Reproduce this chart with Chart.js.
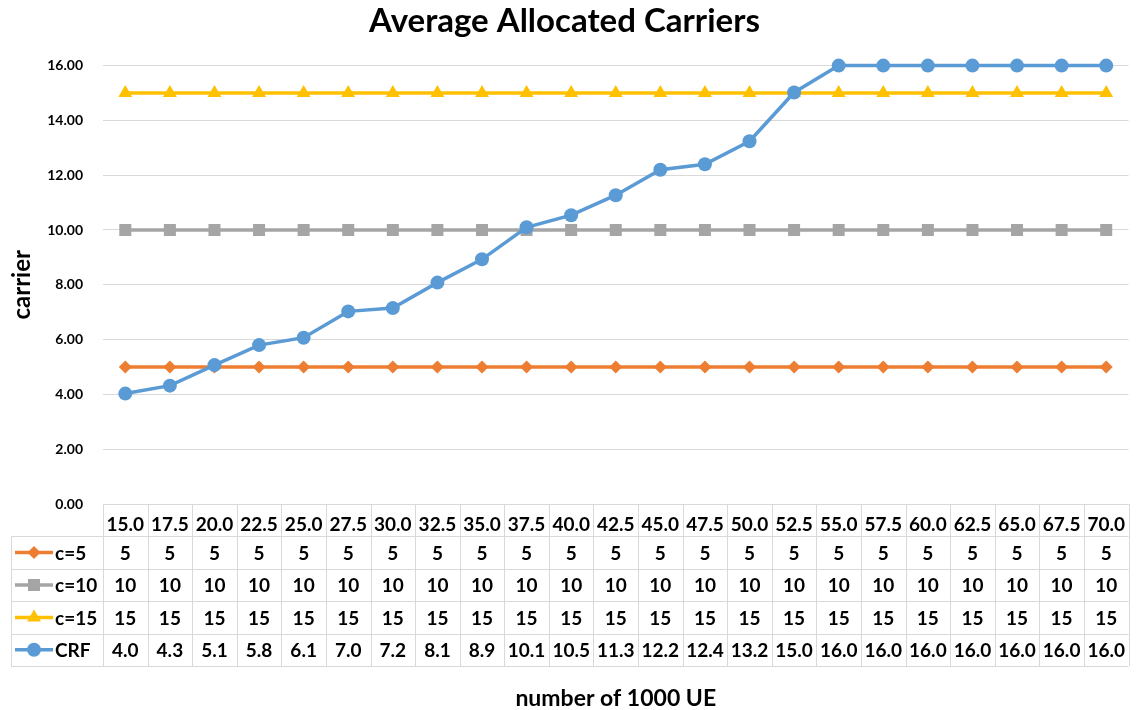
<!DOCTYPE html>
<html><head><meta charset="utf-8">
<script src="https://cdn.jsdelivr.net/npm/chart.js@4/dist/chart.umd.min.js"></script>
<style>html,body{margin:0;padding:0;background:#fff}#wrap{width:1137px;height:710px;position:relative}</style>
</head><body><div id="wrap"><canvas id="c" width="1137" height="710"></canvas></div>
<script>
const categories = ['15.0','17.5','20.0','22.5','25.0','27.5','30.0','32.5','35.0','37.5','40.0','42.5','45.0','47.5','50.0','52.5','55.0','57.5','60.0','62.5','65.0','67.5','70.0'];
const seriesC5  = [5,5,5,5,5,5,5,5,5,5,5,5,5,5,5,5,5,5,5,5,5,5,5];
const seriesC10 = [10,10,10,10,10,10,10,10,10,10,10,10,10,10,10,10,10,10,10,10,10,10,10];
const seriesC15 = [15,15,15,15,15,15,15,15,15,15,15,15,15,15,15,15,15,15,15,15,15,15,15];
const seriesCRF = [4.03,4.32,5.07,5.8,6.07,7.03,7.15,8.08,8.93,10.1,10.54,11.27,12.2,12.4,13.24,15.02,16.0,16.0,16.0,16.0,16.0,16.0,16.0];
const seriesNames = ['c=5','c=10','c=15','CRF'];
const tableDecimals = [0,0,0,1];
const yTicks = [0,2,4,6,8,10,12,14,16];

const FONT = 'Lato, "Open Sans", sans-serif';
const GRID = '#d9d9d9';

const tablePlugin = {
  id: 'dataTable',
  afterDraw(chart) {
    const ctx = chart.ctx;
    const xs = chart.scales.x;
    const n = categories.length;
    const colW = (xs.right - xs.left) / n;
    const top = chart.chartArea.bottom;
    const rowH = 32.4;
    const tableLeft = 11;
    ctx.save();
    ctx.strokeStyle = GRID;
    ctx.lineWidth = 1;
    ctx.beginPath();
    for (let i = 0; i <= n; i++) {
      const x = Math.round(xs.left + i * colW) + 0.5;
      ctx.moveTo(x, top); ctx.lineTo(x, top + rowH * 5);
    }
    ctx.moveTo(tableLeft + 0.5, top + rowH); ctx.lineTo(tableLeft + 0.5, top + rowH * 5);
    for (let r = 1; r <= 5; r++) {
      const y = Math.round(top + r * rowH) + 0.5;
      ctx.moveTo(tableLeft, y); ctx.lineTo(xs.right, y);
    }
    ctx.moveTo(xs.left, Math.round(top) + 0.5); ctx.lineTo(xs.right, Math.round(top) + 0.5);
    ctx.stroke();

    const datasets = [seriesC5, seriesC10, seriesC15, seriesCRF];
    ctx.font = 'bold 19px ' + FONT;
    ctx.fillStyle = '#000';
    ctx.textBaseline = 'middle';
    for (let r = 0; r < 4; r++) {
      const cy = top + rowH * (r + 1) + rowH / 2;
      const ds = chart.data.datasets.find(d => d.label === seriesNames[r]);
      ctx.strokeStyle = ds.borderColor;
      ctx.lineWidth = 3.5;
      ctx.beginPath(); ctx.moveTo(15, cy); ctx.lineTo(53, cy); ctx.stroke();
      ctx.fillStyle = ds.pointBackgroundColor;
      Chart.helpers.drawPoint(ctx, {pointStyle: ds.pointStyle, radius: ds.pointRadius, rotation: 0, borderWidth: 0}, 34, cy);
      ctx.fillStyle = '#000';
      ctx.textAlign = 'left';
      ctx.fillText(seriesNames[r], 55, cy + 1);
      ctx.textAlign = 'center';
      for (let i = 0; i < n; i++) {
        const cx = xs.getPixelForTick(i);
        ctx.fillText(datasets[r][i].toFixed(tableDecimals[r]), cx, cy + 1);
      }
    }
    ctx.restore();
  }
};

new Chart(document.getElementById('c'), {
  type: 'line',
  data: {
    labels: categories,
    datasets: [
      {label: seriesNames[0], data: seriesC5, borderColor: '#ED7D31', backgroundColor: '#ED7D31', pointBackgroundColor: '#ED7D31', pointBorderWidth: 0, pointStyle: 'rectRot', pointRadius: 6.5, borderWidth: 3.5, order: 3},
      {label: seriesNames[1], data: seriesC10, borderColor: '#A5A5A5', backgroundColor: '#A5A5A5', pointBackgroundColor: '#A5A5A5', pointBorderWidth: 0, pointStyle: 'rect', pointRadius: 8.5, borderWidth: 3.5, order: 2},
      {label: seriesNames[2], data: seriesC15, borderColor: '#FFC000', backgroundColor: '#FFC000', pointBackgroundColor: '#FFC000', pointBorderWidth: 0, pointStyle: 'triangle', pointRadius: 8, borderWidth: 3.5, order: 1},
      {label: seriesNames[3], data: seriesCRF, borderColor: '#5B9BD5', backgroundColor: '#5B9BD5', pointBackgroundColor: '#5B9BD5', pointBorderWidth: 0, pointStyle: 'circle', pointRadius: 7, borderWidth: 3.5, order: 0}
    ]
  },
  options: {
    responsive: false,
    animation: false,
    clip: false,
    layout: {padding: {left: 0, right: 8, top: 0, bottom: 0}},
    plugins: {
      legend: {display: false},
      tooltip: {enabled: false},
      title: {display: true, text: 'Average Allocated Carriers', color: '#000', font: {family: FONT, size: 33, weight: 'bold', lineHeight: 1.2}, padding: {top: 2, bottom: 24}}
    },
    scales: {
      x: {
        offset: true,
        grid: {display: false},
        border: {display: false},
        ticks: {color: '#000', font: {family: FONT, size: 19, weight: 'bold'}, padding: 1, maxRotation: 0, autoSkip: false},
        title: {display: true, text: 'number of 1000 UE', color: '#000', font: {family: FONT, size: 23, weight: 'bold', lineHeight: 1}, padding: {top: 0, bottom: 0}},
        afterFit(s) { s.height = 206; }
      },
      y: {
        min: 0, max: 16,
        afterBuildTicks(s) { s.ticks = yTicks.map(v => ({value: v})); },
        grid: {color: GRID, lineWidth: 1, drawTicks: false},
        border: {display: false},
        ticks: {color: '#000', font: {family: FONT, size: 14, weight: 'bold'}, padding: 20, callback: v => Number(v).toFixed(2)},
        title: {display: true, text: 'carrier', color: '#000', font: {family: FONT, size: 24, weight: 'bold', lineHeight: 1.2}, padding: {top: 8, bottom: 8}},
        afterFit(s) { s.width = 103; }
      }
    }
  },
  plugins: [tablePlugin]
});
</script>
</body></html>
